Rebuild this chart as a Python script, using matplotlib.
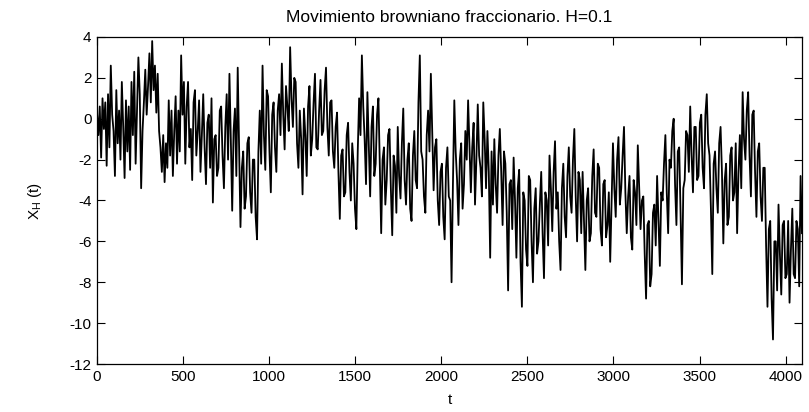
import numpy as np
import matplotlib
matplotlib.use('Agg')
import matplotlib.pyplot as plt

plt.rcParams.update({
    "font.family": ["Liberation Sans", "DejaVu Sans"],
    "font.size": 11,
    "mathtext.default": "regular",
    "axes.unicode_minus": False,
})

# fBm sample path, H=0.1, one value every ~8 steps
xh_0 = [0.3, -0.8, 0.6, -1.9, 1.0, -0.5, 0.8, -2.3, 1.2, -1.4, 2.6, 0.2, -0.6, -2.8, 1.4, -1.2,
        0.4, -2.0, 1.8, -0.4, -2.9, 0.9, -1.6, 0.6, -2.5, 1.8, -0.8, 2.3, -2.2, 0.5, 3.0, 1.2]
xh_1 = [-3.4, -0.6, 0.8, 2.4, 0.2, 1.6, 3.2, 0.8, 3.8, 1.4, 2.6, 0.3, 2.2, -0.6, -1.4, -2.6,
        -0.8, -3.1, -1.2, -2.4, 0.9, -1.8, 0.4, -2.8, -0.6, 1.1, -2.2, 0.4, -1.6, 3.1, 0.2, 1.8]
xh_2 = [-2.2, 0.6, 1.8, -1.4, -0.5, -3.0, 0.8, 1.4, -1.8, -0.6, 0.9, -2.6, -0.8, 1.2, -1.4, -3.2,
        -0.2, 0.2, -2.4, 1.0, -4.1, -1.0, -0.8, -2.8, -2.4, 0.4, 0.6, -1.8, -3.4, -0.4, 1.2, -2.0]
xh_3 = [2.2, -1.0, -4.5, -0.6, 0.5, -2.8, 2.5, -1.4, -5.3, -2.4, -1.6, -4.4, -3.8, -1.2, -0.9, -3.6,
        -4.6, -2.0, -2.0, -4.8, -5.9, -1.6, 0.4, -2.2, 2.6, -0.8, -2.5, 1.4, 1.1, -1.6, -3.6, 0.2]
xh_4 = [0.8, -1.4, -2.6, 0.4, 1.2, -0.8, 2.7, 0.2, -1.5, 1.6, 0.6, -0.6, 3.5, 1.0, -0.4, 2.0,
        1.8, -1.2, -2.4, 0.4, -1.0, -3.7, 0.5, -0.8, -2.8, 0.6, 1.6, -1.8, -1.0, 0.8, 2.2, -1.4]
xh_5 = [-1.5, 0.4, 1.9, -0.8, -0.6, 1.4, 2.5, -0.4, -1.8, 0.8, 0.9, -1.6, -2.4, -0.4, 0.3, -2.6,
        -4.9, -1.8, -1.5, -3.8, -3.6, -0.8, -0.2, -2.6, -4.0, -1.2, -2.2, -4.4, -5.4, -1.6, 1.0, -0.8]
xh_6 = [3.1, 0.6, -1.0, -3.2, 1.3, -1.2, -3.8, -0.4, 0.6, -2.8, -2.2, 0.2, 1.0, -2.4, -5.6, -2.0,
        -1.4, -4.2, -3.0, -0.8, -0.5, -3.4, -5.7, -1.8, -2.3, -4.6, -0.4, -2.8, -3.9, -1.2, 0.5, -3.0]
xh_7 = [-4.2, -2.0, -1.2, -4.4, -5.0, -1.8, -0.6, -3.0, -3.4, 0.8, 3.1, -1.6, -2.0, -3.8, -4.6, -0.8,
        0.4, -1.6, 2.2, -0.6, -3.5, -1.4, -1.0, -4.0, -5.2, -2.6, -2.2, -4.8, -5.9, -2.4, -1.4, -3.8]
xh_8 = [-4.0, -8.0, -3.2, 0.9, -1.6, -3.0, -5.2, -2.0, -1.2, -4.4, -3.2, -0.6, -2.0, 0.9, -1.4, -3.6,
        -1.4, -0.2, -4.2, -2.0, 0.7, -1.8, -2.4, -3.8, 0.8, -1.0, -3.4, -0.6, -2.6, -6.8, -1.6, -4.2]
xh_9 = [-1.0, -3.2, -4.6, -1.8, -0.5, -2.6, -5.2, -1.6, -2.2, -4.6, -8.4, -3.2, -3.0, -5.4, -1.9, -4.0,
        -6.8, -3.4, -2.5, -7.0, -9.2, -3.6, -4.0, -6.4, -7.2, -2.8, -3.0, -6.0, -8.0, -4.4, -3.4, -6.6]
xh_10 = [-6.0, -4.2, -2.6, -5.6, -7.8, -3.6, -4.0, -6.2, -1.8, -3.4, -5.5, -2.6, -1.1, -4.4, -3.6, -6.0,
         -7.4, -3.4, -2.2, -4.8, -5.8, -2.8, -1.4, -3.8, -4.6, -2.0, -0.5, -3.8, -6.0, -2.6, -3.0, -5.6]
xh_11 = [-2.6, -5.0, -7.4, -4.0, -3.4, -6.0, -5.6, -2.8, -1.5, -4.6, -4.8, -2.2, -2.4, -5.4, -6.2, -3.2,
         -3.0, -5.8, -5.2, -3.6, -7.0, -4.0, -1.2, -3.4, -4.8, -2.0, -0.9, -4.2, -3.4, -1.8, -0.4, -3.6]
xh_12 = [-5.6, -3.8, -2.8, -5.8, -6.4, -3.0, -3.6, -5.2, -1.3, -3.4, -5.4, -4.0, -3.8, -6.6, -8.8, -5.2,
         -5.0, -8.2, -7.6, -4.6, -4.2, -6.2, -2.8, -5.0, -7.2, -3.6, -4.0, -2.2, -0.8, -3.6, -5.6, -2.0]
xh_13 = [-2.4, -0.6, 0.0, -3.2, -5.2, -1.6, -1.4, -4.6, -8.1, -3.4, -3.0, -0.6, -0.8, -2.6, 0.6, -1.8,
         -3.6, -0.4, -0.4, -3.0, -2.8, -0.2, 0.2, -2.4, -3.4, 0.2, 1.2, -1.2, -1.8, -4.4, -7.6, -2.2]
xh_14 = [-1.6, -3.4, -4.6, -1.2, -0.4, -2.6, -6.1, -3.0, -2.2, -5.2, -4.8, -1.8, -1.4, -4.0, -3.6, -1.2,
         -5.6, -2.6, -0.8, -3.4, 1.3, -1.0, -2.0, 0.4, 1.3, -1.8, -3.8, 0.2, 0.4, -2.6, -4.8, -1.6]
xh_15 = [-1.2, -3.8, -5.0, -2.4, -2.4, -6.2, -9.2, -5.4, -5.0, -8.8, -10.8, -6.0, -6.0, -8.4, -4.2, -6.6,
         -8.6, -5.2, -5.0, -7.8, -7.6, -5.0, -9.0, -6.4, -4.4, -7.6, -7.8, -5.0, -5.4, -8.2, -2.8, -5.6]

xh = np.array(xh_0 + xh_1 + xh_2 + xh_3 + xh_4 + xh_5 + xh_6 + xh_7 +
              xh_8 + xh_9 + xh_10 + xh_11 + xh_12 + xh_13 + xh_14 + xh_15)
t = np.linspace(0, 4095, len(xh))

xticks = [0, 500, 1000, 1500, 2000, 2500, 3000, 3500, 4000]
yticks = [-12, -10, -8, -6, -4, -2, 0, 2, 4]

fig = plt.figure(figsize=(8.09, 4.12), dpi=100)
ax = fig.add_axes([0.1199, 0.1165, 0.8714, 0.7937])

ax.plot(t, xh, color='black', linewidth=1.3)

ax.set_xlim(0, 4095)
ax.set_ylim(-12, 4)
ax.set_xticks(xticks)
ax.set_yticks(yticks)
ax.tick_params(direction='in', length=6, width=0.8, top=True, right=True, pad=4)
for s in ax.spines.values():
    s.set_linewidth(0.9)

ax.set_title("Movimiento browniano fraccionario. H=0.1", fontsize=12.5, pad=11)
ax.set_xlabel("t", labelpad=7)
ax.set_ylabel("X$_H$ (t)", labelpad=18)

fig.savefig("out.png", dpi=100)
